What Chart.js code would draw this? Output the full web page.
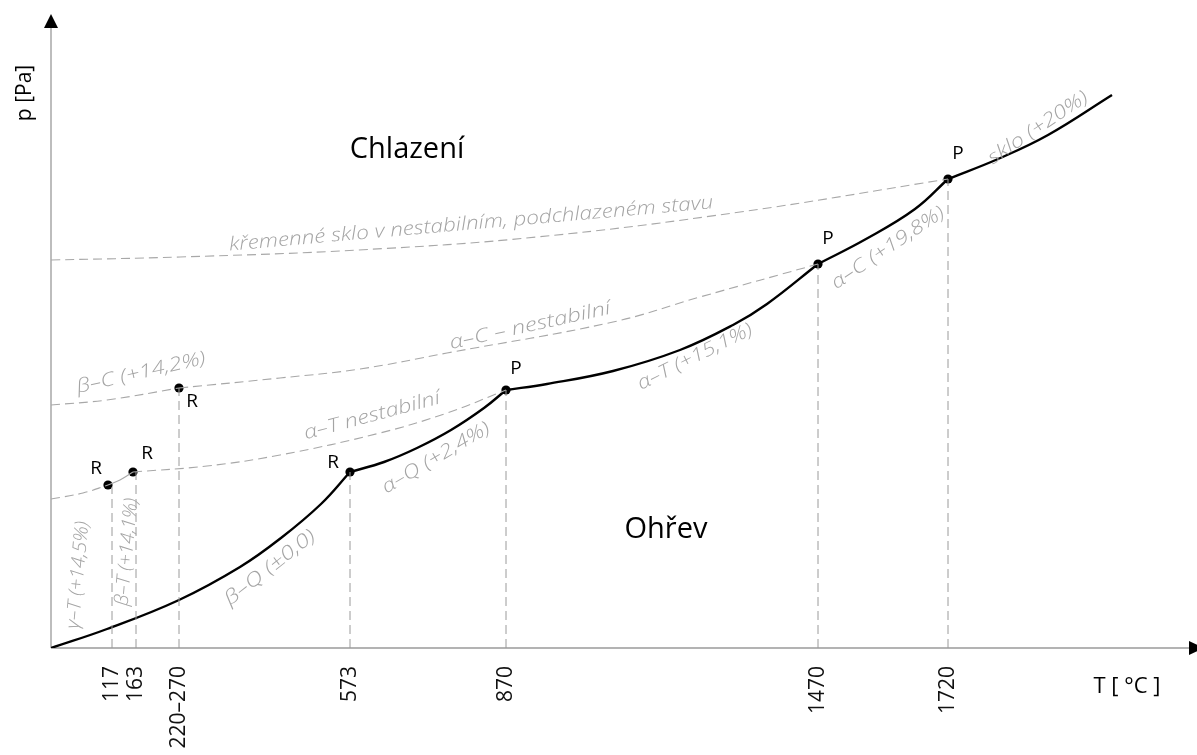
<!DOCTYPE html>
<html>
<head>
<meta charset="utf-8">
<script src="https://cdn.jsdelivr.net/npm/chart.js@4.4.1/dist/chart.umd.min.js"></script>
<style>
  html, body { margin: 0; padding: 0; background: #fff; }
  #wrap { width: 1197px; height: 755px; position: relative; }
</style>
</head>
<body>
<div id="wrap"><canvas id="c"></canvas></div>
<script>
// ---- DATA (x = position along the T axis, y = relative pressure) ----
const tickPos    = [61, 85, 128, 299, 455, 767, 897];
const tickLabels = ['117', '163', '220–270', '573', '870', '1470', '1720'];
const tickTop    = [161, 176, 260, 176, 258, 384, 469];

// stable curve (solid black), one array per phase
const betaQ_x  = [0, 56, 128, 189, 230, 270, 299];
const betaQ_y  = [0, 19, 48, 81, 110, 144, 176];
const alphaQ_x = [299, 333, 366, 400, 433, 455];
const alphaQ_y = [176, 186, 200, 218, 240, 258];
const alphaT_x = [455, 496, 562, 629, 682, 716, 767];
const alphaT_y = [258, 264, 277, 298, 323, 344, 384];
const alphaC_x = [767, 815, 864, 897];
const alphaC_y = [384, 409, 439, 469];
const sklo_x   = [897, 947, 997, 1061];
const sklo_y   = [469, 489, 513, 553];

// metastable curves (dashed grey)
const glass_x  = [0, 129, 307, 486, 689, 897];
const glass_y  = [388, 391, 398, 411, 436, 469];
const betaC_x  = [0, 56, 128];
const betaC_y  = [243, 248, 260];
const alphaCn_x = [128, 229, 309, 396, 562, 649, 767];
const alphaCn_y = [260, 270, 279, 295, 326, 351, 384];
const gammaT_x = [0, 32, 57];
const gammaT_y = [149, 155, 163];
const betaT_x  = [57, 69, 82];
const betaT_y  = [163, 168, 176];
const alphaTn_x = [82, 156, 229, 329, 396, 455];
const alphaTn_y = [176, 182, 193, 215, 235, 258];

// transition points
const pointX = [57, 82, 128, 299, 455, 767, 897];
const pointY = [163, 176, 260, 176, 258, 384, 469];
const pointLabels = ['R', 'R', 'R', 'R', 'P', 'P', 'P'];

// texts
const regionTexts = ['Chlazení', 'Ohřev'];
const curveTexts = [
  'křemenné sklo v nestabilním, podchlazeném stavu',
  'α–C – nestabilní',
  'β–C (+14,2%)',
  'α–T nestabilní',
  'α–Q (+2,4%)',
  'α–T (+15,1%)',
  'α–C (+19,8%)',
  'sklo (+20%)',
  'β–Q (±0,0)',
  'γ–T (+14,5%)',
  'β–T (+14,1%)'
];
const yTitle = 'p [Pa]';
const xTitle = 'T [ °C ]';

// ---- layout / style (not data) ----
const curveTextPlace = [
  {x: 420, y: 424, a: -5,    w: 486},
  {x: 479, y: 322, a: -12.4, w: 164},
  {x: 90,  y: 275, a: -13,   w: 132},
  {x: 321, y: 232, a: -15,   w: 140},
  {x: 385, y: 190, a: -30.6, w: 122},
  {x: 644, y: 291, a: -26.6, w: 126},
  {x: 837, y: 400, a: -34,   w: 132},
  {x: 987, y: 520, a: -33.7, w: 116},
  {x: 219, y: 80,  a: -38,   w: 110},
  {x: 27,  y: 73,  a: -84.8, w: 108},
  {x: 76,  y: 96,  a: -84.8, w: 108}
];
const regionPlace = [{x: 356, y: 490}, {x: 615, y: 110}];
const pointLabelOffset = [[-12,-16],[14,-18],[13,14],[-17,-9],[10,-21],[10,-25],[10,-25]];

const zip = (xs, ys) => xs.map((x, i) => ({x: x, y: ys[i]}));
const DASH = [9, 5];
const GREY = '#a8a8a8';

function solid(xs, ys) {
  return { data: zip(xs, ys), borderColor: '#000', borderWidth: 2.4, showLine: true,
           pointRadius: 0, tension: 0.4, fill: false };
}
function dashed(xs, ys) {
  return { data: zip(xs, ys), borderColor: GREY, borderWidth: 1.1, borderDash: DASH, showLine: true,
           pointRadius: 0, tension: 0.4, fill: false };
}

const datasets = [];
tickPos.forEach((x, i) => {
  datasets.push({ data: [{x: x, y: 0}, {x: x, y: tickTop[i]}], borderColor: '#9a9a9a', borderWidth: 1,
                  borderDash: DASH, showLine: true, pointRadius: 0, fill: false });
});
datasets.push(dashed(glass_x, glass_y));
datasets.push(dashed(betaC_x, betaC_y));
datasets.push(dashed(alphaCn_x, alphaCn_y));
datasets.push(dashed(gammaT_x, gammaT_y));
datasets.push({ data: zip(betaT_x, betaT_y), borderColor: GREY, borderWidth: 1.1, showLine: true,
                pointRadius: 0, tension: 0.4, fill: false });
datasets.push(dashed(alphaTn_x, alphaTn_y));
datasets.push(solid(betaQ_x, betaQ_y));
datasets.push(solid(alphaQ_x, alphaQ_y));
datasets.push(solid(alphaT_x, alphaT_y));
datasets.push(solid(alphaC_x, alphaC_y));
datasets.push(solid(sklo_x, sklo_y));
datasets.push({ data: zip(pointX, pointY), showLine: false, pointRadius: 4.6, pointBackgroundColor: '#000',
                pointBorderColor: '#000', pointBorderWidth: 0 });

const annot = {
  id: 'annot',
  beforeDatasetsDraw(chart) {
    const ctx = chart.ctx, a = chart.chartArea;
    ctx.save();
    ctx.strokeStyle = '#9a9a9a';
    ctx.lineWidth = 1.3;
    ctx.beginPath();
    ctx.moveTo(a.left, a.bottom); ctx.lineTo(1192, a.bottom);
    ctx.moveTo(a.left, a.bottom); ctx.lineTo(a.left, a.top + 10);
    ctx.stroke();
    ctx.fillStyle = '#000';
    ctx.beginPath();
    ctx.moveTo(a.left, a.top - 1); ctx.lineTo(a.left - 7, a.top + 13); ctx.lineTo(a.left + 7, a.top + 13);
    ctx.closePath(); ctx.fill();
    ctx.beginPath();
    ctx.moveTo(1204, a.bottom); ctx.lineTo(1189, a.bottom - 7); ctx.lineTo(1189, a.bottom + 7);
    ctx.closePath(); ctx.fill();
    ctx.restore();
  },
  afterDatasetsDraw(chart) {
    const ctx = chart.ctx, a = chart.chartArea;
    const xs = chart.scales.x, ys = chart.scales.y;
    ctx.save();
    // curve descriptions
    ctx.fillStyle = '#a4a4a4';
    ctx.textAlign = 'center';
    ctx.textBaseline = 'middle';
    ctx.font = "italic 300 19px 'Open Sans'";
    curveTexts.forEach((t, i) => {
      const p = curveTextPlace[i];
      const w = ctx.measureText(t).width;
      ctx.save();
      ctx.translate(xs.getPixelForValue(p.x), ys.getPixelForValue(p.y));
      ctx.rotate(p.a * Math.PI / 180);
      ctx.scale(p.w / w, 1);
      ctx.fillText(t, 0, 0);
      ctx.restore();
    });
    // point labels
    ctx.fillStyle = '#000';
    ctx.font = "19px 'Open Sans'";
    pointLabels.forEach((t, i) => {
      ctx.fillText(t, xs.getPixelForValue(pointX[i]) + pointLabelOffset[i][0],
                      ys.getPixelForValue(pointY[i]) + pointLabelOffset[i][1]);
    });
    // region labels
    ctx.font = "29px 'Open Sans'";
    ctx.textBaseline = 'alphabetic';
    regionTexts.forEach((t, i) => {
      ctx.fillText(t, xs.getPixelForValue(regionPlace[i].x), ys.getPixelForValue(regionPlace[i].y));
    });
    // axis titles
    ctx.font = "22px 'Open Sans'";
    ctx.fillText(xTitle, a.right - 58, a.bottom + 45);
    ctx.save();
    ctx.translate(a.left - 26, a.top + 78);
    ctx.rotate(-Math.PI / 2);
    ctx.textBaseline = 'middle';
    ctx.font = "21px 'Open Sans'";
    ctx.fillText(yTitle, 0, 0);
    ctx.restore();
    ctx.restore();
  }
};

new Chart(document.getElementById('c'), {
  type: 'scatter',
  data: { datasets: datasets },
  options: {
    responsive: true,
    maintainAspectRatio: false,
    animation: false,
    layout: { padding: { left: 51, top: 15, right: 12, bottom: 0 } },
    plugins: { legend: { display: false }, tooltip: { enabled: false } },
    scales: {
      x: {
        type: 'linear', min: 0, max: 1134,
        grid: { display: false, drawTicks: false },
        border: { display: false },
        afterBuildTicks: (axis) => { axis.ticks = tickPos.map(v => ({ value: v })); },
        afterFit: (axis) => { axis.height = 107; },
        ticks: {
          autoSkip: false, minRotation: 90, maxRotation: 90, padding: 18,
          color: '#111', font: { family: "'Open Sans'", size: 21 },
          callback: (value, index) => tickLabels[index]
        }
      },
      y: {
        type: 'linear', min: 0, max: 633, display: false
      }
    }
  },
  plugins: [annot]
});
</script>
</body>
</html>
